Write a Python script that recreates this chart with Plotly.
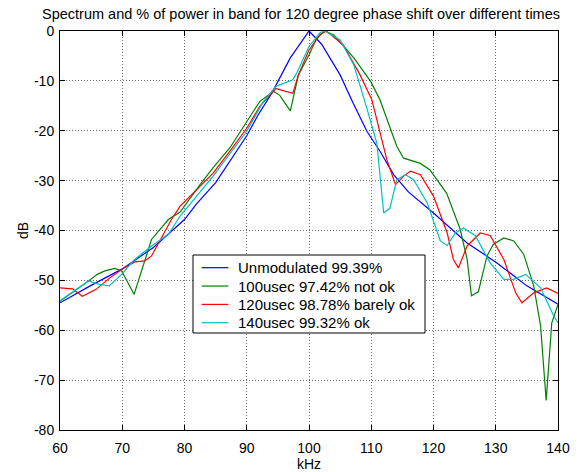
import plotly.graph_objects as go

title_text = "Spectrum and % of power in band for 120 degree phase shift over different times"
x_ticks = [60, 70, 80, 90, 100, 110, 120, 130, 140]
y_ticks = [0, -10, -20, -30, -40, -50, -60, -70, -80]

names = ["Unmodulated 99.39%", "100usec 97.42% not ok",
         "120usec 98.78% barely ok", "140usec 99.32% ok"]

blue_x = [60, 65, 70, 75, 80, 81.9, 85, 87.3, 90, 91.8, 94, 97, 100, 102, 105, 107.1,
          109.3, 111.4, 113.6, 116, 120, 125.4, 130.2, 135, 140]
blue_y = [-54.5, -51, -47.7, -43.4, -37.8, -34.7, -30.4, -26.1, -21, -16.9, -12.5,
          -5.4, 0, -2.6, -8.8, -14.5, -20.1, -24.1, -28.8, -32.3, -36.5, -42.5,
          -46.5, -51.1, -54.8]

green_x = [60, 62, 64.5, 66, 67.2, 68.8, 69.9, 71.9, 74.7, 77.4, 79.3, 82.5, 84.6,
           87.3, 90, 92.1, 94.3, 95.3, 97, 98.3, 100, 101.2, 102.5, 104, 107.2,
           109.9, 111.4, 113, 114.1, 115.2, 117.8, 119.4, 122.1, 124.3, 125.4,
           126.1, 127.2, 128.6, 129.6, 131.3, 132.9, 134.5, 136.1, 137.2, 138.1,
           139, 140]
green_y = [-54.2, -52.5, -50.2, -48.8, -48.1, -47.6, -48.1, -52.8, -41.8, -37.8,
           -36.3, -30.8, -27.4, -23.4, -18.1, -14.1, -12.1, -12.9, -16, -8.8, -4.8,
           -1.5, 0, -0.8, -5.4, -10.1, -13.8, -19.1, -23.1, -25.5, -26.5, -27.8,
           -32.5, -39.8, -45.8, -53.1, -52.3, -45.1, -42.8, -41.5, -42.1, -44.8,
           -51.1, -59.1, -74.1, -58.5, -54.8]

red_x = [60, 62, 63.6, 65.8, 68, 69.9, 72, 73.6, 74.7, 76.3, 77.9, 79.3, 82.5,
         84.6, 87.3, 90, 92.1, 94.7, 95.7, 97.4, 98.3, 100, 101.8, 102.8, 105.5,
         108.2, 110.1, 111.2, 112.5, 113.9, 115.2, 116.3, 117.9, 120, 122.2, 123.2,
         124, 125.4, 127.5, 129.1, 131.3, 133.2, 134.2, 136.1, 138.2, 140]
red_y = [-51.5, -51.7, -53.2, -51.8, -49.5, -47.8, -46.3, -46.1, -45.1, -41.5,
         -37.8, -35.1, -31.2, -28.5, -24.1, -19.5, -15.1, -11.5, -11.9, -12.5,
         -8.8, -3.8, -0.7, 0, -2.8, -8.8, -13.8, -19.1, -25.8, -30.8, -29.1, -28.1,
         -28.8, -33.1, -40.5, -45.8, -47.5, -43.1, -40.5, -41, -45.8, -52.5, -54.5,
         -52.5, -51.5, -52.6]

cyan_x = [60, 62.9, 64.6, 66.3, 67.9, 69.9, 72, 74.7, 77.4, 79.3, 84.6, 90, 92.7,
          94.7, 97.4, 98, 100, 101.8, 102.6, 105, 107.2, 109.3, 110.9, 112, 113,
          114.1, 115.5, 116.8, 119, 121.1, 122.2, 123.5, 124.8, 126.7, 129.1,
          131.3, 132.9, 134.8, 137.2, 139.3, 140]
cyan_y = [-54.1, -51.5, -50.1, -50.8, -51.1, -48.8, -45.8, -43.1, -40.8, -37.1,
          -29.1, -20.1, -14.1, -11.1, -9.8, -8.5, -3.1, -0.3, 0, -1.8, -6.8, -15.5,
          -22.5, -36.5, -35.5, -29.8, -28.8, -29.8, -34.5, -42.1, -43, -40.5, -39.5,
          -41, -46.5, -49.8, -49.8, -48.8, -51.5, -57.1, -58.5]

colors = ["#0000FF", "#008000", "#FF0000", "#00BFBF"]
series_x = [blue_x, green_x, red_x, cyan_x]
series_y = [blue_y, green_y, red_y, cyan_y]

FONT = "Liberation Sans, Arial, sans-serif"

# figure / plot-area geometry (pixels)
W, H = 580, 472
ML, MR, MT, MB = 60, 22, 31, 42
PW, PH = W - ML - MR, H - MT - MB


def px_x(p):
    return (p - ML) / PW


def px_y(p):
    return 1 - (p - MT) / PH


fig = go.Figure()
for xs, ys, nm, c in zip(series_x, series_y, names, colors):
    fig.add_trace(go.Scatter(x=xs, y=ys, mode="lines", name=nm,
                             line=dict(color=c, width=1.2), showlegend=False))

axis_common = dict(
    showline=True, linecolor="black", linewidth=1, mirror="ticks",
    ticks="inside", ticklen=5, tickcolor="black", tickwidth=1,
    showgrid=True, gridcolor="#6e6e6e", griddash="1px,2px", gridwidth=1,
    zeroline=False, automargin=False,
    tickfont=dict(family=FONT, size=14, color="black"),
)

fig.update_xaxes(range=[60, 140], tickvals=x_ticks, ticktext=[str(v) for v in x_ticks],
                 ticklabelstandoff=5,
                 title=dict(text="kHz", font=dict(family=FONT, size=14, color="black"),
                            standoff=5),
                 **axis_common)
fig.update_yaxes(range=[-80, 0], tickvals=y_ticks, ticktext=[str(v) for v in y_ticks],
                 ticklabelstandoff=2,
                 title=dict(text="dB", font=dict(family=FONT, size=14, color="black"),
                            standoff=2),
                 **axis_common)

# legend box drawn in the MATLAB style
LEG_L, LEG_R, LEG_T, LEG_B = 193, 425, 255, 333
ROW0, ROW_STEP = 267.7, 18.35
SAMPLE_L, SAMPLE_R, TEXT_L = 201.7, 228.3, 235.5

shapes = [dict(type="rect", xref="paper", yref="paper",
               x0=px_x(LEG_L), x1=px_x(LEG_R), y0=px_y(LEG_B), y1=px_y(LEG_T),
               line=dict(color="black", width=1), fillcolor="white", layer="above")]
annotations = []
for i, (nm, c) in enumerate(zip(names, colors)):
    yy = px_y(ROW0 + i * ROW_STEP)
    shapes.append(dict(type="line", xref="paper", yref="paper",
                       x0=px_x(SAMPLE_L), x1=px_x(SAMPLE_R), y0=yy, y1=yy,
                       line=dict(color=c, width=1.2), layer="above"))
    annotations.append(dict(text=nm, xref="paper", yref="paper", x=px_x(TEXT_L), y=yy,
                            xanchor="left", yanchor="middle", showarrow=False,
                            font=dict(family=FONT, size=15, color="black")))

fig.update_layout(
    width=W, height=H,
    margin=dict(l=ML, r=MR, t=MT, b=MB, autoexpand=False),
    paper_bgcolor="white", plot_bgcolor="white",
    font=dict(family=FONT, size=14, color="black"),
    title=dict(text=title_text, x=301 / W, xanchor="center", y=1 - 14 / H,
               yanchor="middle", font=dict(family=FONT, size=14.5, color="black")),
    shapes=shapes, annotations=annotations,
    showlegend=False,
)

fig.write_html("out.html")
